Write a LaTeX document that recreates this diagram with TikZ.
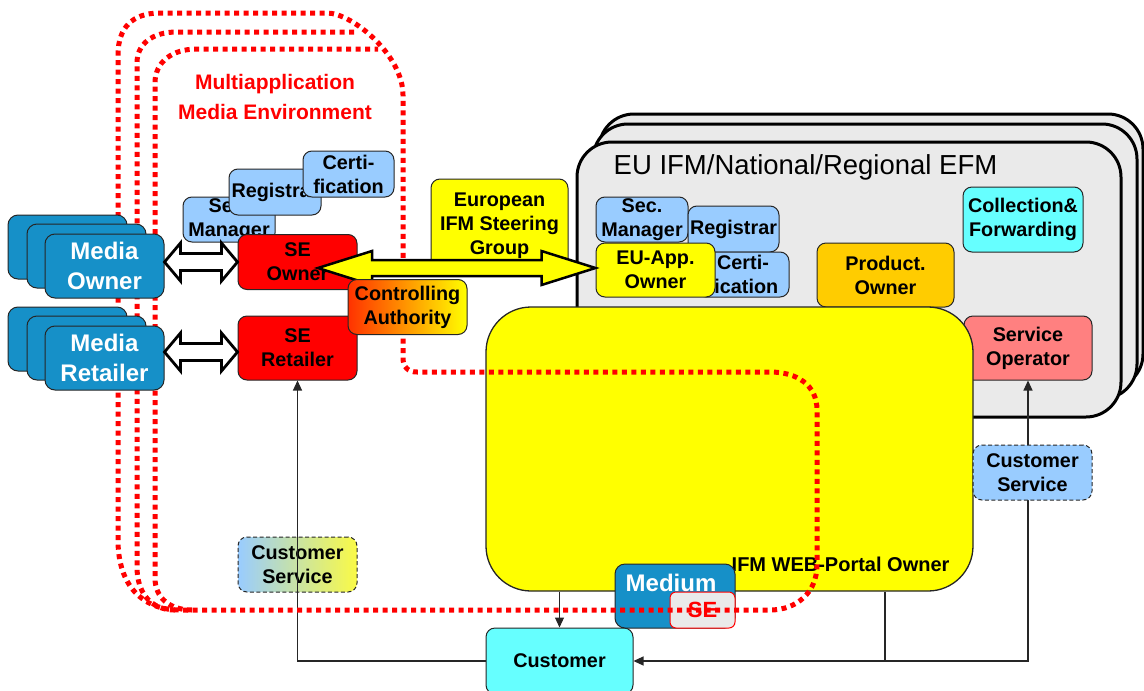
\documentclass[tikz,border=0pt]{standalone}
\usepackage{fontspec}
\setmainfont{Liberation Sans}
\usetikzlibrary{arrows.meta,calc}

\definecolor{mblue}{RGB}{22,144,200}
\definecolor{lblue}{RGB}{153,204,255}
\definecolor{pgray}{RGB}{234,234,234}
\definecolor{porange}{RGB}{255,204,0}
\definecolor{pcyan}{RGB}{102,255,255}
\definecolor{ppink}{RGB}{255,128,128}
\definecolor{pyellow}{RGB}{255,255,0}
\definecolor{csyellow}{RGB}{250,250,70}
\definecolor{ctrlred}{RGB}{255,50,0}

% horizontal block arrow with heads at both ends
% #1 style, #2 left tip, #3 right tip, #4 head length, #5 half head width, #6 half shaft width
\newcommand\dblblockarrow[6]{%
  \path[#1] let \p1=(#2), \p2=(#3) in
    (\x1,\y1) -- (\x1+#4,\y1+#5) -- (\x1+#4,\y1+#6) -- (\x2-#4,\y1+#6)
    -- (\x2-#4,\y1+#5) -- (\x2,\y1) -- (\x2-#4,\y1-#5) -- (\x2-#4,\y1-#6)
    -- (\x1+#4,\y1-#6) -- (\x1+#4,\y1-#5) -- cycle;}

\begin{document}
\begin{tikzpicture}[x=1pt,y=-1pt,
  sz/.style 2 args={minimum width=#1pt, minimum height=#2pt},
  lbl/.style={font=\fontsize{19.8}{24}\selectfont\bfseries, align=center},
  box/.style={lbl, draw=black!85, line width=1pt, rounded corners=9pt, inner sep=0pt},
  mbox/.style={draw=black!85, line width=1pt, fill=mblue, rounded corners=10pt,
    inner sep=0pt, text=white, align=center,
    font=\fontsize{24}{30}\selectfont\bfseries, sz={119}{64}},
  eubox/.style={draw=black, line width=3pt, fill=pgray, rounded corners=35pt,
    sz={544}{275}, inner sep=0pt},
  dashbox/.style={box, dash pattern=on 4pt off 2.5pt},
  dotline/.style={draw=red, line width=5pt, dash pattern=on 5pt off 4.5pt},
  conn/.style={draw=black!85, line width=1.1pt},
  tip/.style={-{Triangle[length=10pt,width=9pt]}},
  wharrow/.style={draw=black, line width=2.8pt, fill=white},
  yearrow/.style={draw=black, line width=2.5pt, fill=pyellow},
]
\useasboundingbox (0,0) rectangle (1144,691);

% ---- EU / national / regional stack ----
\node[eubox] (euBack) at (871,251.5) {};
\node[eubox] (euMid) at (865,261.5) {};
\node[eubox] (euFront) at (849,279.5) {};
\node[font=\fontsize{27.5}{33}\selectfont] (euTitle) at (805.5,167) {EU IFM/National/Regional EFM};

\node[box, fill=lblue, sz={92}{45}] (euSec) at (642,219.5) {Sec.\\Manager};
\node[box, fill=lblue, sz={91}{46}] (euReg) at (733.5,229) {Registrar};
\node[box, fill=lblue, sz={92}{45}] (euCert) at (743,274.5) {Certi-\\fication};
\node[box, fill=pyellow, sz={119}{54}] (euApp) at (655.5,270) {EU-App.\\Owner};
\node[box, fill=porange, sz={137}{64}] (prod) at (885.5,275) {Product.\\Owner};
\node[box, fill=pcyan, sz={120}{65}] (coll) at (1023,219.5) {Collection\&\\Forwarding};
\node[box, fill=ppink, sz={128}{64}] (svcop) at (1028,348) {Service\\Operator};

% ---- web portal ----
\node[draw=black!85, line width=1.3pt, fill=pyellow, rounded corners=45pt,
  sz={487}{284}, inner sep=0pt] (portal) at (729.5,449) {};
\node[lbl, font=\fontsize{20}{24}\selectfont\bfseries, anchor=east] (portalLbl) at (953,564) {IFM WEB-Portal Owner};

% ---- customer side ----
\node[dashbox, left color=lblue, right color=csyellow, sz={119}{55}] (csL) at (297.5,564.5) {Customer\\Service};
\node[box, fill=red, sz={119}{64}] (seRet) at (297.5,348) {SE\\Retailer};

\coordinate (tap) at (885,661);
\node[box, fill=pcyan, sz={147}{66}] (cust) at (559.5,661) {Customer};
\draw[conn, tip] (cust.west) -| (seRet.south);
\draw[conn, tip] (cust.north |- portal.south) -- (cust.north);
\draw[conn, {Triangle[length=10pt,width=9pt]}-{Triangle[length=10pt,width=9pt]}] (cust.east) -| (svcop.south);
\draw[conn] (portal.south -| tap) -- (tap);
\node[dashbox, fill=lblue, sz={119}{55}] (csR) at (1032.5,472.5) {Customer\\Service};

% ---- medium with secure element ----
\node[mbox, sz={120}{64}] (medium) at (675,596) {};
\node[text=white, font=\fontsize{24}{30}\selectfont\bfseries] (mediumTxt) at (671,583) {Medium};
\node[draw=red, line width=1pt, fill=pgray, rounded corners=6pt, sz={65}{36}, inner sep=0pt,
  text=red, font=\fontsize{22}{26}\selectfont\bfseries] (seMark) at (702.5,610) {SE};

% ---- multiapplication media environment (three dotted outlines) ----
\draw[dotline] (118,540) -- (118,55) .. controls (118,28) and (132,13) .. (160,13)
  -- (327,13) .. controls (352,13) and (403,55) .. (403,95)
  -- (403,358) .. controls (403,367) and (408,372) .. (417,372)
  -- (770,372) .. controls (797,372) and (817,385) .. (817,410)
  -- (817,565) .. controls (817,592) and (797,610) .. (770,610)
  -- (180,610) .. controls (142,610) and (118,585) .. (118,540);
\draw[dotline] (175,610) .. controls (150,610) and (137,592) .. (137,567)
  -- (137,63) .. controls (137,44) and (152,32) .. (177,32) -- (358,32);
\draw[dotline] (192,610) .. controls (170,610) and (155,598) .. (155,578)
  -- (155,83) .. controls (155,62) and (172,49) .. (197,49) -- (378,49);

% ---- media owners and retailers ----
\node[mbox] (mo3) at (67.5,247) {};
\node[mbox] (mo2) at (86.5,256) {};
\node[mbox] (mo) at (104.5,266) {Media\\Owner};
\node[mbox] (mr3) at (67.5,339) {};
\node[mbox] (mr2) at (86.5,348) {};
\node[mbox] (mr) at (104.5,358) {Media\\Retailer};

% ---- SE owner side ----
\node[box, fill=lblue, sz={92}{45}] (secA) at (229,219.5) {Sec.\\Manager};
\node[box, fill=lblue, sz={92}{46}] (regA) at (275,192) {Registrar};
\node[box, fill=lblue, sz={91}{46}] (certA) at (348.5,174) {Certi-\\fication};
\node[box, fill=red, sz={119}{55}] (seOwn) at (297.5,262) {SE\\Owner};

\coordinate (wa1L) at (mo.east |- seOwn.west);
\coordinate (wa2R) at ($(seRet.west)+(0,4)$);
\coordinate (wa2L) at (mr.east |- wa2R);
\dblblockarrow{wharrow}{wa1L}{seOwn.west}{16pt}{19pt}{8.5pt}
\dblblockarrow{wharrow}{wa2L}{wa2R}{16pt}{19pt}{8.5pt}

\node[box, fill=pyellow, sz={137}{94}] (eisg) at (499.5,226) {European\\IFM Steering\\Group};

\coordinate (yaL) at (318,268);
\coordinate (yaR) at (euApp.west |- yaL);
\dblblockarrow{yearrow}{yaL}{yaR}{54pt}{17pt}{8pt}

\node[box, left color=ctrlred, right color=pyellow, sz={119}{55}] (ctrl) at (407.5,307) {Controlling\\Authority};

\node[lbl, text=red, font=\fontsize{21}{30}\selectfont\bfseries] (mae) at (275,97) {Multiapplication\\Media Environment};
\end{tikzpicture}
\end{document}
